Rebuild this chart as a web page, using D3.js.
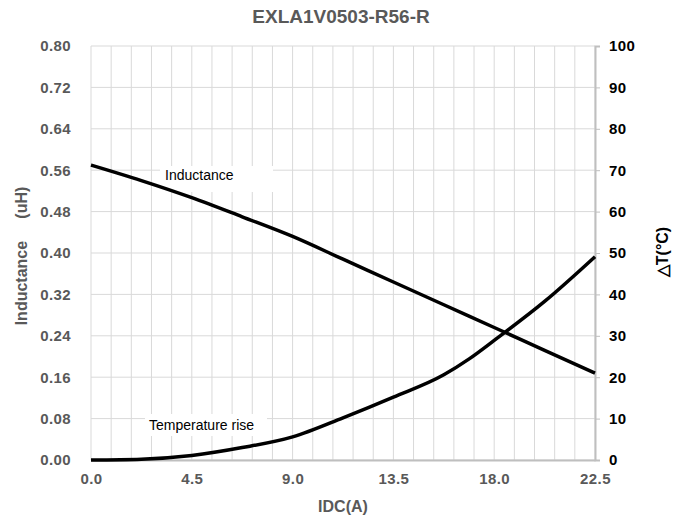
<!DOCTYPE html>
<html>
<head>
<meta charset="utf-8">
<script src="https://cdn.jsdelivr.net/npm/d3@7"></script>
<style>
  body { margin: 0; background: #fff; }
  svg { font-family: "Liberation Sans", Arial, sans-serif; }
</style>
</head>
<body>
<svg id="chart"></svg>
<script>
let width = 683
let height = 520
let margin = {top: 46, right: 88, bottom: 60, left: 91}

// data
let titleText = 'EXLA1V0503-R56-R'
let idcInd = [0, 2.25, 4.5, 6.75, 9.0, 11.25, 13.5, 15.75, 18.0, 20.25, 22.5]
let inductance = [0.570, 0.540, 0.507, 0.470, 0.432, 0.388, 0.344, 0.300, 0.256, 0.212, 0.168]
let idcTemp = [0, 2.25, 4.5, 6.75, 9.0, 11.25, 13.5, 15.75, 16.9, 18.0, 20.25, 22.5]
let tempRise = [0, 0.2, 1.1, 3.0, 5.6, 10.2, 15.2, 20.6, 24.5, 28.9, 38.3, 49.1]
let xTicks = [0, 4.5, 9, 13.5, 18, 22.5]
let xGrid = d3.range(0, 26).map(i => i * 0.9)
let leftTicks = d3.range(0, 11).map(i => i * 0.08)
let rightTicks = d3.range(0, 11).map(i => i * 10)

let grey = '#595959'

let svg = d3.select('#chart').attr('width', width).attr('height', height)

let x = d3.scaleLinear().domain([0, 22.5]).range([margin.left, width - margin.right])
let yL = d3.scaleLinear().domain([0, 0.8]).range([height - margin.bottom, margin.top])
let yR = d3.scaleLinear().domain([0, 100]).range([height - margin.bottom, margin.top])

// gridlines
svg.append('g').selectAll('line')
   .data(xGrid)
   .enter().append('line')
   .attr('x1', d => x(d)).attr('x2', d => x(d))
   .attr('y1', yL(0)).attr('y2', yL(0.8))
   .attr('stroke', '#d9d9d9').attr('stroke-width', 1)

svg.append('g').selectAll('line')
   .data(leftTicks)
   .enter().append('line')
   .attr('x1', x(0)).attr('x2', x(22.5))
   .attr('y1', d => yL(d)).attr('y2', d => yL(d))
   .attr('stroke', '#d9d9d9').attr('stroke-width', 1)

// axes
let xAxis = svg.append('g')
   .attr('transform', 'translate(0,' + yL(0) + ')')
   .call(d3.axisBottom(x).tickValues(xTicks).tickFormat(d3.format('.1f')).tickSize(0).tickPadding(13))
xAxis.select('.domain').attr('stroke', '#bfbfbf').attr('stroke-width', 2)

let leftAxis = svg.append('g')
   .attr('transform', 'translate(' + x(0) + ',0)')
   .call(d3.axisLeft(yL).tickValues(leftTicks).tickFormat(d3.format('.2f')).tickSize(0).tickPadding(20))
leftAxis.select('.domain').remove()

let rightAxis = svg.append('g')
   .attr('transform', 'translate(' + x(22.5) + ',0)')
   .call(d3.axisRight(yR).tickValues(rightTicks).tickSize(5).tickPadding(9))
rightAxis.select('.domain').attr('stroke', '#bfbfbf').attr('stroke-width', 2)
rightAxis.selectAll('.tick line').attr('stroke', '#bfbfbf')

svg.selectAll('.tick text')
   .attr('font-size', 15).attr('font-weight', 'bold')
   .attr('font-family', '"Liberation Sans", Arial, sans-serif')
   .style('letter-spacing', '0.4px')
xAxis.selectAll('.tick text').attr('fill', grey)
leftAxis.selectAll('.tick text').attr('fill', grey)
rightAxis.selectAll('.tick text').attr('fill', '#000')

// white label boxes behind the curve labels
svg.append('rect').attr('x', 160).attr('y', 166).attr('width', 113).attr('height', 26).attr('fill', '#fff')
svg.append('rect').attr('x', 145).attr('y', 414).attr('width', 122).attr('height', 22).attr('fill', '#fff')

// curves
let lineInd = d3.line()
   .x((d, i) => x(idcInd[i]))
   .y(d => yL(d))
   .curve(d3.curveMonotoneX)

let lineTemp = d3.line()
   .x((d, i) => x(idcTemp[i]))
   .y(d => yR(d))
   .curve(d3.curveMonotoneX)

svg.append('path').datum(inductance)
   .attr('d', lineInd)
   .attr('fill', 'none').attr('stroke', '#000').attr('stroke-width', 3.5)

svg.append('path').datum(tempRise)
   .attr('d', lineTemp)
   .attr('fill', 'none').attr('stroke', '#000').attr('stroke-width', 3.5)

// curve labels
svg.append('text').text('Inductance')
   .attr('x', 165).attr('y', 180)
   .attr('font-size', 14).attr('fill', '#000')

svg.append('text').text('Temperature rise')
   .attr('x', 149).attr('y', 430)
   .attr('font-size', 14).attr('fill', '#000')

// title and axis titles
svg.append('text').text(titleText)
   .attr('x', 341).attr('y', 23)
   .attr('text-anchor', 'middle')
   .attr('font-size', 19).attr('font-weight', 'bold').attr('fill', grey)

svg.append('text').text('IDC(A)')
   .attr('x', 343).attr('y', 512)
   .attr('text-anchor', 'middle')
   .attr('font-size', 16).attr('font-weight', 'bold').attr('fill', grey)

svg.append('text').text('Inductance     (uH)')
   .attr('transform', 'translate(27,256) rotate(-90)')
   .attr('text-anchor', 'middle')
   .style('white-space', 'pre')
   .attr('font-size', 16).attr('font-weight', 'bold').attr('fill', grey)

svg.append('text').text('\u25B3T(\u00B0C)')
   .attr('transform', 'translate(668,252) rotate(-90)')
   .attr('text-anchor', 'middle')
   .attr('font-size', 16).attr('font-weight', 'bold').attr('fill', '#000')
</script>
</body>
</html>
